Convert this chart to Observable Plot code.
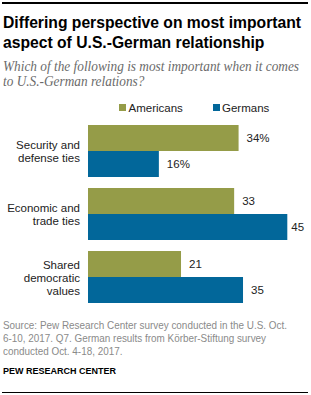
<!DOCTYPE html>
<html>
<head>
<meta charset="utf-8">
<script src="https://cdn.jsdelivr.net/npm/d3@7"></script>
<script src="https://cdn.jsdelivr.net/npm/@observablehq/plot@0.6"></script>
<style>
  html, body { margin: 0; padding: 0; background: #fff; }
  body { width: 311px; height: 395px; position: relative; overflow: hidden; font-family: "Liberation Sans", Arial, sans-serif; }
  .rule { position: absolute; left: 2px; width: 306px; background: #000; }
  .fit { transform-origin: 0 0; }
  #title { position: absolute; left: 3px; top: 12.5px; font-weight: bold; font-size: 17px; line-height: 20px; color: #000; white-space: nowrap; }
  #subtitle { position: absolute; left: 3px; top: 58.5px; font-family: "Liberation Serif", serif; font-style: italic; font-size: 14px; line-height: 15.7px; color: #6a6a6a; white-space: nowrap; }
  #legend { position: absolute; top: 102px; left: 0; font-size: 11.5px; line-height: 12px; color: #222; }
  .sw { position: absolute; white-space: nowrap; }
  .sw i { position: absolute; left: 0; top: 1.5px; width: 7px; height: 7px; }
  .sw span { position: absolute; left: 9.5px; top: 0; }
  #chart { position: absolute; left: 0; top: 118px; }
  #source { position: absolute; left: 3px; top: 318.5px; font-size: 11px; line-height: 13.3px; color: #8a8a8a; white-space: nowrap; }
  #credit { position: absolute; left: 3px; top: 366px; font-weight: bold; font-size: 9px; line-height: 10px; color: #000; white-space: nowrap; }
</style>
</head>
<body>
<div class="rule" style="top:1.5px;height:2px"></div>
<div id="title" class="fit" data-w="298">Differing perspective on most important<br>aspect of U.S.-German relationship</div>
<div id="subtitle" class="fit" data-w="296">Which of the following is most important when it comes<br>to U.S.-German relations?</div>
<div id="legend"></div>
<div id="chart"></div>
<div id="source" class="fit" data-w="284">Source: Pew Research Center survey conducted in the U.S. Oct.<br>6-10, 2017. Q7. German results from Körber-Stiftung survey<br>conducted Oct. 4-18, 2017.</div>
<div id="credit">PEW RESEARCH CENTER</div>
<div class="rule" style="top:391.5px;height:1.5px"></div>
<script>
// Survey answers: share naming each aspect as most important
const categories = ["Security and defense ties", "Economic and trade ties", "Shared democratic values"];
const categoryTicks = ["Security and\ndefense ties", "Economic and\ntrade ties", "Shared\ndemocratic\nvalues"];
const groups = ["Americans", "Germans"];
const americans = [34, 33, 21];
const germans = [16, 45, 35];
const colors = ["#959c48", "#02679a"];

const rows = categories.flatMap((category, i) => [
  {category, group: groups[0], value: americans[i], label: i === 0 ? `${americans[i]}%` : `${americans[i]}`},
  {category, group: groups[1], value: germans[i], label: i === 0 ? `${germans[i]}%` : `${germans[i]}`}
]);
const xMax = d3.max(rows, d => d.value);

// Condense header and footer text blocks horizontally to their set widths
document.querySelectorAll(".fit").forEach(el => {
  const w = el.getBoundingClientRect().width;
  const target = +el.dataset.w;
  if (w > 0) el.style.transform = `scaleX(${target / w})`;
});

// Legend swatches
const legend = document.getElementById("legend");
const swatchX = [119, 212.5];
groups.forEach((g, i) => {
  const el = document.createElement("div");
  el.className = "sw";
  el.style.left = swatchX[i] + "px";
  el.innerHTML = `<i style="background:${colors[i]}"></i><span>${g}</span>`;
  legend.appendChild(el);
});

const chart = Plot.plot({
  width: 311,
  height: 188,
  marginLeft: 88,
  marginRight: 23.7,
  marginTop: 7,
  marginBottom: 2.4,
  style: {fontFamily: "'Liberation Sans', Arial, sans-serif", color: "#222", background: "transparent"},
  x: {domain: [0, xMax], axis: null},
  y: {domain: groups, padding: 0, axis: null},
  fy: {domain: categories, paddingInner: 0.178, paddingOuter: 0},
  color: {domain: groups, range: colors},
  marks: [
    Plot.barX(rows, {x: "value", y: "group", fy: "category", fill: "group"}),
    Plot.text(rows.filter(d => d.value < xMax), {
      x: "value", y: "group", fy: "category", text: "label",
      textAnchor: "start", dx: 7.5, fontSize: 11.5, fill: "#222"
    }),
    Plot.text(rows.filter(d => d.value >= xMax), {
      x: "value", y: "group", fy: "category", text: "label",
      textAnchor: "start", dx: 3.5, fontSize: 11.5, fill: "#222"
    }),
    Plot.axisFy({
      anchor: "left", label: null, tickSize: 0, tickPadding: 8.5,
      fontSize: 11.5, lineHeight: 1.12,
      tickFormat: c => categoryTicks[categories.indexOf(c)]
    })
  ]
});
document.getElementById("chart").appendChild(chart);
</script>
</body>
</html>
